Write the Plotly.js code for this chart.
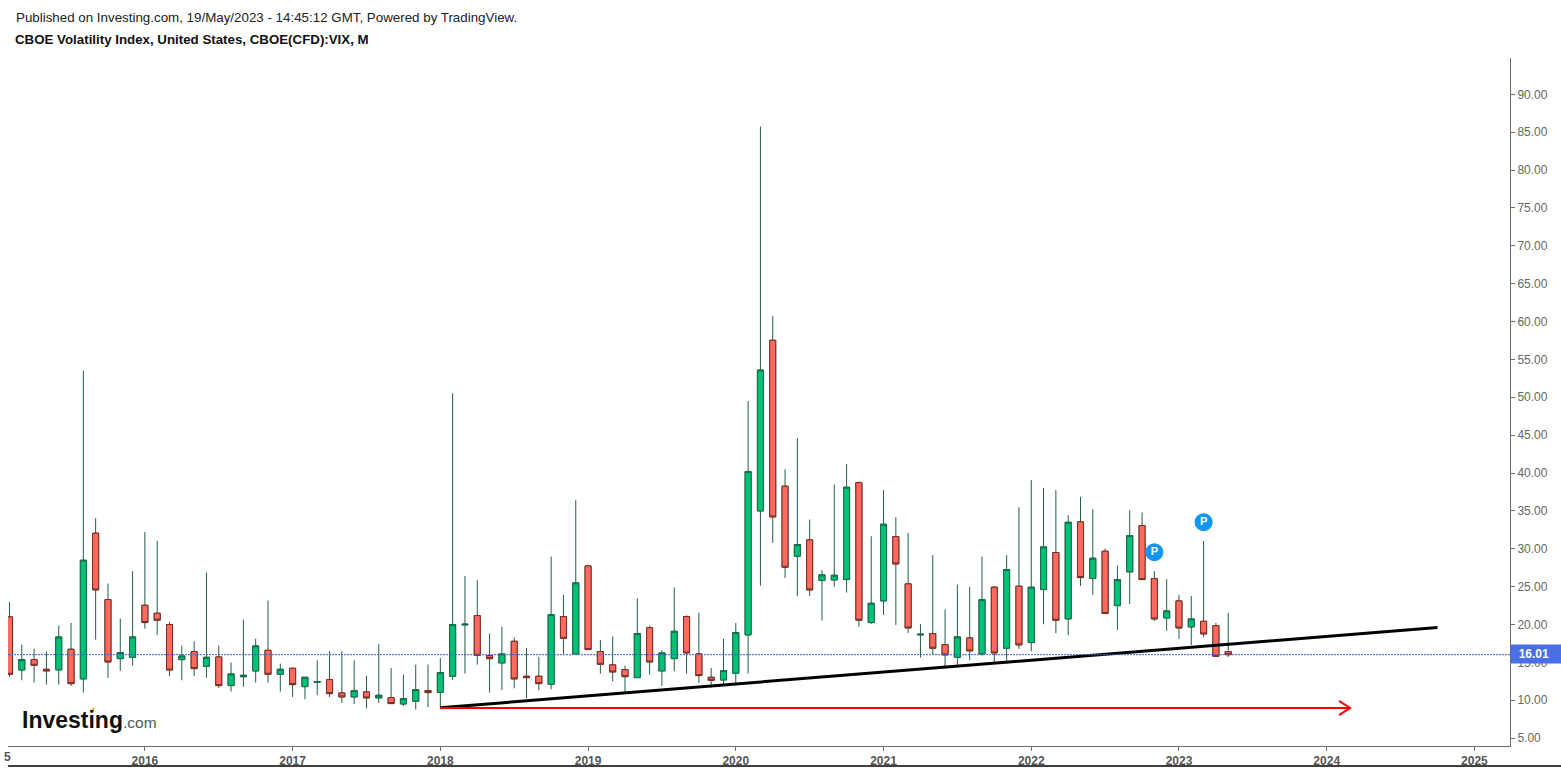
<!DOCTYPE html>
<html>
<head>
<meta charset="utf-8">
<script src="https://cdn.plot.ly/plotly-3.0.1.min.js"></script>
<style>html,body{margin:0;padding:0;background:#fff;overflow:hidden}#chart{width:1561px;height:772px}</style>
</head>
<body>
<div id="chart"></div>
<script>
const months = [
"2015-02","2015-03","2015-04","2015-05","2015-06","2015-07","2015-08","2015-09","2015-10","2015-11","2015-12",
"2016-01","2016-02","2016-03","2016-04","2016-05","2016-06","2016-07","2016-08","2016-09","2016-10","2016-11","2016-12",
"2017-01","2017-02","2017-03","2017-04","2017-05","2017-06","2017-07","2017-08","2017-09","2017-10","2017-11","2017-12",
"2018-01","2018-02","2018-03","2018-04","2018-05","2018-06","2018-07","2018-08","2018-09","2018-10","2018-11","2018-12",
"2019-01","2019-02","2019-03","2019-04","2019-05","2019-06","2019-07","2019-08","2019-09","2019-10","2019-11","2019-12",
"2020-01","2020-02","2020-03","2020-04","2020-05","2020-06","2020-07","2020-08","2020-09","2020-10","2020-11","2020-12",
"2021-01","2021-02","2021-03","2021-04","2021-05","2021-06","2021-07","2021-08","2021-09","2021-10","2021-11","2021-12",
"2022-01","2022-02","2022-03","2022-04","2022-05","2022-06","2022-07","2022-08","2022-09","2022-10","2022-11","2022-12",
"2023-01","2023-02","2023-03","2023-04","2023-05"];
const open = [
21.0,13.99,15.36,14.08,14.0,16.73,12.81,32.05,23.29,15.49,15.67,
22.54,21.48,19.98,15.36,16.42,14.48,15.71,11.93,13.1,13.86,16.59,13.42,
14.22,11.79,12.37,12.72,10.96,10.43,11.09,10.3,10.34,9.5,9.86,11.27,
11.04,13.16,19.94,21.17,15.89,14.92,17.78,13.16,13.16,12.1,21.04,16.11,
27.73,16.42,14.66,14.04,12.98,19.59,13.86,15.49,21.04,16.11,13.03,12.67,
13.55,18.62,34.99,57.53,38.26,29.01,31.17,25.8,25.88,25.93,38.74,20.25,
23.11,31.6,25.36,18.62,18.8,17.34,15.67,18.22,16.11,24.92,16.86,25.05,
17.61,24.61,29.5,20.73,33.55,26.06,29.67,22.49,26.94,33.06,26.06,20.86,
23.11,19.68,20.42,19.85,16.42];
const high = [
22.98,17.34,16.81,16.46,19.85,20.2,53.5,34.03,25.4,20.78,27.03,
32.22,31.03,20.34,17.21,17.78,26.85,17.21,14.97,20.64,18.13,23.16,14.83,
14.22,13.03,15.27,16.46,16.46,15.27,13.2,17.39,14.26,13.38,14.7,14.7,
15.58,50.54,26.41,25.84,18.8,19.72,18.27,16.9,15.7,28.97,23.9,36.41,
27.9,17.96,18.44,14.57,23.46,19.85,16.59,24.9,21.2,21.53,14.26,18.09,
20.2,49.5,85.75,60.71,40.5,44.6,33.85,27.16,38.48,41.2,38.87,31.65,
37.73,34.16,32.09,20.03,29.14,21.97,25.27,24.96,28.97,25.09,29.14,35.48,
39.05,38.04,37.73,34.43,36.85,35.22,30.02,27.78,35.09,34.78,27.03,25.97,
23.9,23.77,31.04,20.2,21.53];
const low = [
13.07,12.63,12.32,12.06,12.05,11.88,11.0,18.0,12.94,13.87,14.57,
19.45,18.62,13.2,12.63,13.2,12.94,11.62,11.13,11.75,12.32,12.32,11.13,
10.43,10.12,10.69,10.43,9.64,9.5,8.93,9.64,9.5,9.24,8.76,9.07,
8.89,12.67,13.51,14.7,11.0,11.31,11.57,10.25,11.31,11.44,16.11,16.1,
16.64,13.51,12.5,11.09,12.94,13.38,11.88,13.82,13.51,12.28,11.66,11.93,
11.93,13.51,25.13,30.77,26.15,23.77,23.77,20.5,24.96,24.21,19.68,20.07,
21.26,19.94,18.88,15.63,16.07,14.17,14.39,15.27,15.89,14.92,14.83,16.77,
16.46,20.03,18.84,18.58,25.09,23.9,21.39,19.28,22.71,25.88,20.47,19.15,
18.09,17.25,18.31,15.76,15.71];
const close = [
13.42,15.36,14.61,13.87,18.35,12.19,28.48,24.56,15.05,16.29,18.35,
20.25,20.56,13.99,15.84,14.17,15.67,11.93,13.47,13.29,17.17,13.42,14.08,
12.06,13.03,12.46,10.87,10.43,11.27,10.3,10.65,9.55,10.21,11.4,11.0,
13.64,19.98,20.03,15.93,15.49,16.11,12.81,12.98,12.19,21.3,18.18,25.49,
16.68,14.74,13.73,13.11,18.8,15.05,16.24,19.1,16.24,13.25,12.63,13.91,
18.93,40.2,53.6,34.2,27.56,30.55,24.56,26.55,26.5,38.12,20.56,22.8,
33.24,27.99,19.54,18.71,16.86,15.98,18.36,16.51,23.29,16.24,27.25,17.3,
24.92,30.24,20.56,33.5,26.19,28.75,21.44,25.93,31.74,25.93,20.73,21.79,
19.54,20.73,18.75,15.8,16.01];

const yTicks = [5,10,15,20,25,30,35,40,45,50,55,60,65,70,75,80,85,90];
const years = [2016,2017,2018,2019,2020,2021,2022,2023,2024,2025];
const lastPrice = 16.01;
const supportLine = {start:"2018-01", startValue:9.0, end:"2024-10", endValue:19.6};
const flatArrow = {start:"2018-01", value:8.97, end:"2024-02"};
const pivotMonths = ["2022-11","2023-03"];
const pivotValues = [29.55,33.5];

function idx(m){const p=m.split("-");return (+p[0]-2015)*12+(+p[1]-1);}
const x = months.map(idx);
const WICK="#215f43", GREEN="#00C176", GREEN_B="#1a6b4a", RED="#FF6A5F", RED_B="#7d2a25";
const FONT="Liberation Sans, Arial, sans-serif";
const px = v=>(v-8)/1502, py = v=>(746-v)/688;

const arrowEnd = idx(flatArrow.end)+0.9;
const traces = [
 {type:"candlestick",x:x,open:open,high:high,low:low,close:close,hoverinfo:"skip",showlegend:false,whiskerwidth:0,
  increasing:{line:{color:WICK,width:1},fillcolor:GREEN},decreasing:{line:{color:WICK,width:1},fillcolor:RED}},
 {type:"candlestick",x:x,open:open,close:close,
  high:open.map((o,i)=>Math.max(o,close[i])),low:open.map((o,i)=>Math.min(o,close[i])),
  text:months,hoverinfo:"text",showlegend:false,whiskerwidth:0,
  increasing:{line:{color:GREEN_B,width:1},fillcolor:GREEN},decreasing:{line:{color:RED_B,width:1},fillcolor:RED}},
 {type:"scatter",mode:"lines",x:[idx(supportLine.start),idx(supportLine.end)],y:[supportLine.startValue,supportLine.endValue],
  line:{color:"#000",width:3},hoverinfo:"skip",showlegend:false},
 {type:"scatter",mode:"lines",x:[idx(flatArrow.start),arrowEnd,null,arrowEnd-0.9,arrowEnd,arrowEnd-0.9],
  y:[flatArrow.value,flatArrow.value,null,flatArrow.value+0.95,flatArrow.value,flatArrow.value-0.95],
  line:{color:"#f00",width:2},hoverinfo:"skip",showlegend:false},
 {type:"scatter",mode:"markers+text",x:pivotMonths.map(idx),y:pivotValues,text:["P","P"],textposition:"middle center",
  textfont:{family:FONT,size:11,color:"#fff",weight:700},
  marker:{size:18,color:"#1296F3"},hoverinfo:"skip",showlegend:false,cliponaxis:false}
];

const layout = {
 width:1561,height:772,paper_bgcolor:"#fff",plot_bgcolor:"#fff",
 margin:{l:8,r:51,t:58,b:26,pad:0},showlegend:false,boxmode:"overlay",
 font:{family:FONT,size:12,color:"#666"},
 xaxis:{type:"linear",range:[0.88,122.89],tickmode:"array",tickvals:years.map(y=>(y-2015)*12),ticktext:years.map(String),
  showgrid:false,zeroline:false,showline:true,linecolor:"#6d6d6d",linewidth:1,ticks:"outside",ticklen:4,tickcolor:"#6d6d6d",
  tickfont:{family:FONT,size:12,color:"#555",weight:700},rangeslider:{visible:false},fixedrange:true},
 yaxis:{type:"linear",side:"right",range:[3.95,94.8],tickmode:"array",tickvals:yTicks,ticktext:yTicks.map(v=>v.toFixed(2)),
  showgrid:false,zeroline:false,showline:true,linecolor:"#6d6d6d",linewidth:1,ticks:"outside",ticklen:4,tickcolor:"#6d6d6d",
  tickfont:{family:FONT,size:12,color:"#666"},fixedrange:true},
 shapes:[
  {type:"line",xref:"paper",x0:0,x1:1,yref:"y",y0:lastPrice,y1:lastPrice,line:{color:"#3d5fd0",width:1,dash:"2px,1px"}},
  {type:"line",xref:"paper",yref:"paper",x0:px(8),x1:px(1561),y0:py(766),y1:py(766),line:{color:"#000",width:1.5}},
  {type:"line",xref:"paper",yref:"paper",x0:px(91),x1:px(94),y0:py(713),y1:py(708),line:{color:"#F5A623",width:2}}
 ],
 annotations:[
  {xref:"paper",yref:"paper",x:px(14),y:py(18),xanchor:"left",yanchor:"middle",showarrow:false,
   text:"Published on Investing.com, 19/May/2023 - 14:45:12 GMT, Powered by TradingView.",font:{family:FONT,size:13.35,color:"#222"}},
  {xref:"paper",yref:"paper",x:px(13),y:py(40),xanchor:"left",yanchor:"middle",showarrow:false,
   text:"<b>CBOE Volatility Index, United States, CBOE(CFD):VIX, M</b>",font:{family:FONT,size:13.3,color:"#111"}},
  {xref:"paper",yref:"paper",x:px(13),y:py(757),xanchor:"right",yanchor:"middle",showarrow:false,
   text:"<b>5</b>",font:{family:FONT,size:12,color:"#555"}},
  {xref:"paper",yref:"paper",x:px(20),y:py(720),xanchor:"left",yanchor:"middle",showarrow:false,
   text:"<b>Investing</b><span style='font-size:15.5px;color:#555'>.com</span>",font:{family:FONT,size:23,color:"#111"}},
  {xref:"paper",yref:"y",x:1,y:lastPrice,xanchor:"left",yanchor:"middle",showarrow:false,yshift:1,
   text:"<b>&nbsp;&nbsp;16.01</b>",font:{family:FONT,size:12,color:"#fff"},bgcolor:"#4A6EE6",width:50,height:16,borderpad:1,align:"left"}
 ]
};
Plotly.newPlot("chart",traces,layout,{displayModeBar:false});
</script>
</body>
</html>
